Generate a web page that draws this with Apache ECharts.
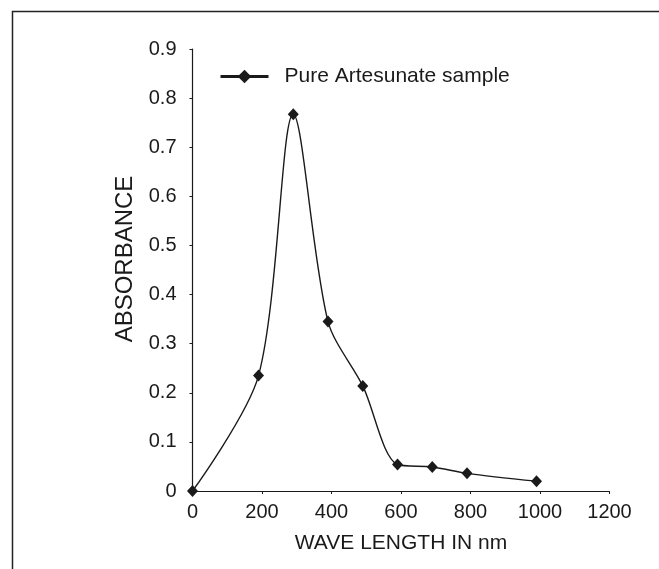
<!DOCTYPE html>
<html>
<head>
<meta charset="utf-8">
<script src="https://cdn.jsdelivr.net/npm/echarts@6/dist/echarts.min.js"></script>
<style>
html,body{margin:0;padding:0;background:#fff;}
#chart{width:659px;height:569px;}
</style>
</head>
<body>
<div id="chart"></div>
<script>
var wavelengths = [0, 190, 290, 390, 490, 590, 690, 790, 990];
var absorbance = [0, 0.235, 0.767, 0.345, 0.214, 0.054, 0.049, 0.036, 0.020];
var seriesName = 'Pure Artesunate sample';
var xTitle = 'WAVE LENGTH IN nm';
var yTitle = 'ABSORBANCE';

var points = wavelengths.map(function (w, i) { return [w, absorbance[i]]; });
var font = 'Liberation Sans, Arial, sans-serif';
var ink = '#1a1a1a';

var chart = echarts.init(document.getElementById('chart'), null, {renderer: 'canvas'});
chart.setOption({
  animation: false,
  backgroundColor: '#fff',
  textStyle: {fontFamily: font, color: ink},
  graphic: [{
    type: 'rect', left: 10, top: 9,
    shape: {width: 700, height: 620},
    style: {fill: 'none', stroke: '#222', lineWidth: 1.5},
    silent: true
  }],
  grid: {left: 192.5, right: 49.5, top: 49, bottom: 78},
  legend: {
    left: 214, top: 61,
    itemWidth: 48, itemHeight: 17,
    data: [seriesName],
    lineStyle: {width: 3, color: ink},
    textStyle: {fontFamily: font, fontSize: 21, color: ink, padding: [0, 0, 0, 11]}
  },
  xAxis: {
    type: 'value', min: 0, max: 1200, interval: 200,
    name: xTitle, nameLocation: 'middle', nameGap: 42,
    nameTextStyle: {fontFamily: font, fontSize: 21, color: ink},
    axisLine: {show: true, onZero: false, lineStyle: {color: ink, width: 1.2}},
    axisTick: {show: true, length: 3, lineStyle: {color: ink}},
    axisLabel: {fontFamily: font, fontSize: 20, color: ink, margin: 11,
      formatter: function (v) { return String(v); }},
    splitLine: {show: false}
  },
  yAxis: {
    type: 'value', min: 0, max: 0.9, interval: 0.1,
    name: yTitle, nameLocation: 'middle', nameGap: 55, nameRotate: 90,
    nameTextStyle: {fontFamily: font, fontSize: 24, color: ink, padding: [0, 0, 0, 22]},
    axisLine: {show: true, lineStyle: {color: ink, width: 1.2}},
    axisTick: {show: true, length: 3, lineStyle: {color: ink}},
    axisLabel: {fontFamily: font, fontSize: 20, color: ink, margin: 16},
    splitLine: {show: false}
  },
  series: [{
    name: seriesName,
    type: 'line',
    data: points,
    smooth: 0.3,
    symbol: 'diamond',
    symbolSize: [11, 12],
    itemStyle: {color: ink},
    lineStyle: {color: ink, width: 1.4}
  }]
});
</script>
</body>
</html>
